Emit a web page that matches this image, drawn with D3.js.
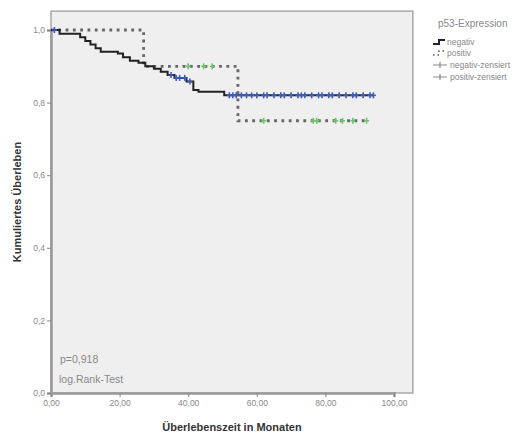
<!DOCTYPE html>
<html>
<head>
<meta charset="utf-8">
<script src="https://cdn.jsdelivr.net/npm/d3@7"></script>
<style>
  body { margin: 0; background: #fff; }
  svg { font-family: "Liberation Sans", Arial, sans-serif; }
</style>
</head>
<body>
<svg width="525" height="436"></svg>
<script>
// Kaplan-Meier steps, negativ group (time in months, cumulative survival)
const negTimes = [0, 2.5, 8.5, 10, 11.5, 13, 14.5, 19.5, 21, 23, 25.5, 27.5, 30, 32, 34, 36, 39.5, 41.5, 43, 50.5, 94];
const negSurv  = [1.0, 0.99, 0.98, 0.97, 0.96, 0.95, 0.94, 0.935, 0.925, 0.915, 0.91, 0.90, 0.893, 0.885, 0.876, 0.868, 0.858, 0.835, 0.83, 0.82, 0.82];
const negCensored = [1, 35, 36.5, 37.5, 39, 40.5, 52, 53, 54, 55.5, 57, 58.5, 60, 62, 63, 65, 67, 68, 70, 72, 73, 74, 76, 78, 79, 81, 82, 84, 86, 88, 89, 91, 93, 94];

// positiv group
const posTimes = [0, 27, 54.5, 92.5];
const posSurv  = [1.0, 0.90, 0.75, 0.75];
const posCensored = [40, 44.5, 47, 62, 76.5, 77.5, 83, 85, 88, 92];

const xTicks = [0, 20, 40, 60, 80, 100];
const yTicks = [0, 0.2, 0.4, 0.6, 0.8, 1.0];
const legendLabels = ["negativ", "positiv", "negativ-zensiert", "positiv-zensiert"];

const svg = d3.select("svg");

const x = d3.scaleLinear().domain([0, 100]).range([51, 394]);
const y = d3.scaleLinear().domain([0, 1]).range([393, 30]);

const comma = s => s.replace(".", ",");

// plot frame
svg.append("rect")
  .attr("x", x(0)).attr("y", y(1.052))
  .attr("width", x(105.5) - x(0)).attr("height", y(0) - y(1.052))
  .attr("fill", "#efefef")
  .attr("stroke", "#a8a8a8")
  .attr("stroke-width", 1.5);

// axes
const xAxis = svg.append("g")
  .attr("transform", "translate(0," + y(0) + ")")
  .call(d3.axisBottom(x).tickValues(xTicks).tickSize(4).tickPadding(3)
    .tickFormat(d => comma(d.toFixed(2))));

const yAxis = svg.append("g")
  .attr("transform", "translate(" + x(0) + ",0)")
  .call(d3.axisLeft(y).tickValues(yTicks).tickSize(4).tickPadding(2)
    .tickFormat(d => comma(d.toFixed(1))));

[xAxis, yAxis].forEach(g => {
  g.select(".domain").attr("stroke", "#999").attr("stroke-width", 2.5);
  g.selectAll(".tick line").attr("stroke", "#888");
  g.selectAll(".tick text").attr("fill", "#888").style("font-size", "8.5px");
});

// step curves
const stepLine = d3.line()
  .x(d => x(d[0]))
  .y(d => y(d[1]))
  .curve(d3.curveStepAfter);

svg.append("path")
  .datum(d3.zip(posTimes, posSurv))
  .attr("fill", "none")
  .attr("stroke", "#666")
  .attr("stroke-width", 2.8)
  .attr("stroke-dasharray", "2.8,4.5")
  .attr("d", stepLine);

svg.append("path")
  .datum(d3.zip(negTimes, negSurv))
  .attr("fill", "none")
  .attr("stroke", "#222")
  .attr("stroke-width", 2)
  .attr("d", stepLine);

// survival lookup for censor marks
function survAt(times, surv, t) {
  const i = d3.bisectRight(times, t) - 1;
  return surv[Math.max(0, i)];
}

function drawCensored(times, surv, cens, color) {
  const g = svg.append("g").attr("stroke", color).attr("stroke-width", 1.6);
  cens.forEach(t => {
    const cx = x(t), cy = y(survAt(times, surv, t));
    g.append("line").attr("x1", cx).attr("x2", cx).attr("y1", cy - 3).attr("y2", cy + 3);
    g.append("line").attr("x1", cx - 2.5).attr("x2", cx + 2.5).attr("y1", cy).attr("y2", cy);
  });
}

drawCensored(negTimes, negSurv, negCensored, "#3d5cc0");
drawCensored(posTimes, posSurv, posCensored, "#6cc46c");

// axis titles
svg.append("text")
  .attr("x", 232).attr("y", 431)
  .attr("text-anchor", "middle")
  .attr("font-weight", "bold")
  .attr("font-size", 11)
  .attr("fill", "#333")
  .text("Überlebenszeit in Monaten");

svg.append("text")
  .attr("transform", "translate(21," + ((y(0) + y(1.052)) / 2) + ") rotate(-90)")
  .attr("text-anchor", "middle")
  .attr("font-weight", "bold")
  .attr("font-size", 11)
  .attr("fill", "#333")
  .text("Kumuliertes Überleben");

// test annotation
svg.append("text")
  .attr("x", 60).attr("y", 363)
  .attr("font-size", 10.5).attr("fill", "#888")
  .text("p=0,918");
svg.append("text")
  .attr("x", 59).attr("y", 383)
  .attr("font-size", 10.5).attr("fill", "#888")
  .text("log.Rank-Test");

// legend
const leg = svg.append("g").attr("transform", "translate(433,0)");
leg.append("text")
  .attr("x", 5).attr("y", 27)
  .attr("font-size", 10).attr("fill", "#888")
  .text("p53-Expression");

const legY = [42, 53, 65, 77];
legendLabels.forEach((label, i) => {
  const ly = legY[i];
  if (i === 0) {
    leg.append("path")
      .attr("d", "M0," + (ly + 2) + "H6V" + (ly - 2) + "H12")
      .attr("fill", "none").attr("stroke", "#222").attr("stroke-width", 2);
  } else if (i === 1) {
    leg.append("path")
      .attr("d", "M0," + (ly + 2) + "H6V" + (ly - 2) + "H12")
      .attr("fill", "none").attr("stroke", "#555").attr("stroke-width", 1.5)
      .attr("stroke-dasharray", "1.5,3");
  } else {
    leg.append("line")
      .attr("x1", 0).attr("x2", 14).attr("y1", ly).attr("y2", ly)
      .attr("stroke", "#888").attr("stroke-width", 1);
    leg.append("line")
      .attr("x1", 7).attr("x2", 7).attr("y1", ly - 3).attr("y2", ly + 3)
      .attr("stroke", "#888").attr("stroke-width", 1.2);
  }
  leg.append("text")
    .attr("x", i < 2 ? 14 : 17).attr("y", ly + 3)
    .attr("font-size", 8.5).attr("fill", "#888")
    .text(label);
});
</script>
</body>
</html>
